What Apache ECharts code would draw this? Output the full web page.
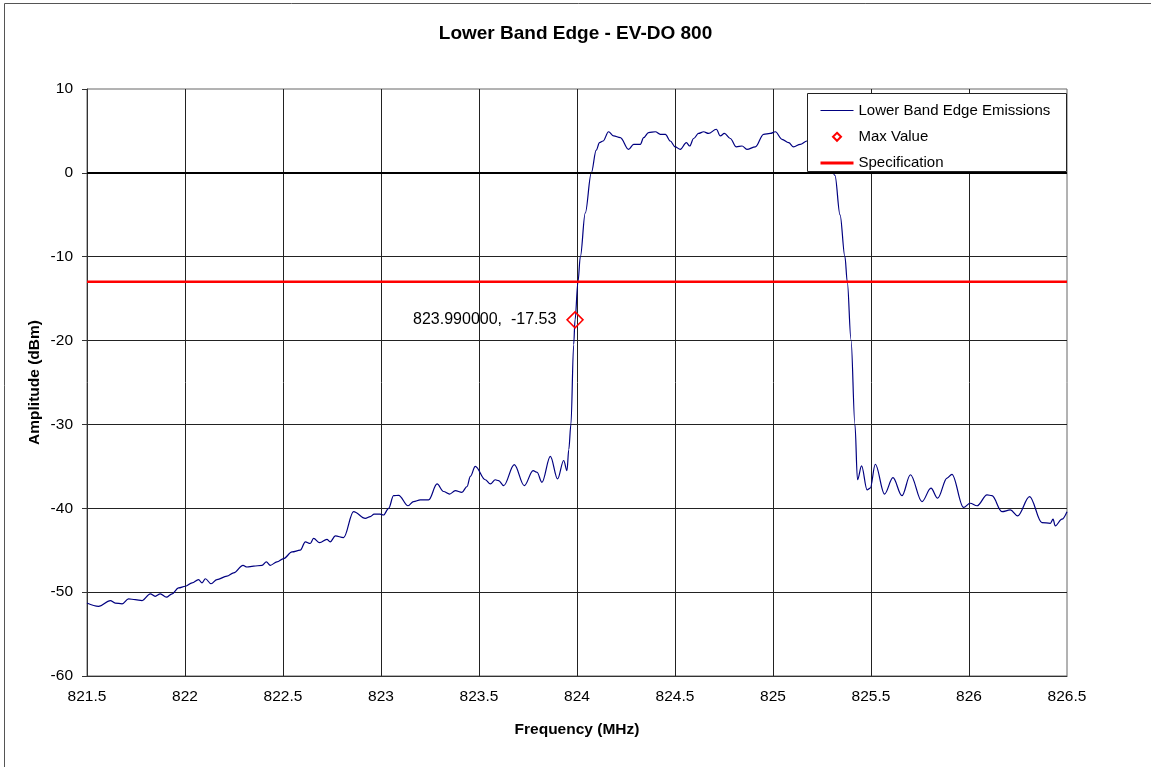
<!DOCTYPE html>
<html>
<head>
<meta charset="utf-8">
<script src="https://cdn.jsdelivr.net/npm/echarts@6/dist/echarts.min.js"></script>
<style>
html,body{margin:0;padding:0;background:#fff;}
#chart{width:1151px;height:767px;}
</style>
</head>
<body>
<div id="chart"></div>
<script>
// ---- Data ----
const freqMHz = [
  821.500, 821.559, 821.619, 821.644, 821.679, 821.712, 821.746, 821.781, 821.823, 821.848,
  821.874, 821.905, 821.934, 821.967, 822.002, 822.036, 822.069, 822.087, 822.104, 822.133,
  822.163, 822.214, 822.248, 822.296, 822.316, 822.350, 822.393, 822.415, 822.435, 822.469,
  822.503, 822.546, 822.588, 822.614, 822.639, 822.656, 822.687, 822.724, 822.741, 822.767,
  822.809, 822.860, 822.920, 822.945, 822.965, 822.995, 823.013, 823.039, 823.064, 823.090,
  823.138, 823.166, 823.201, 823.243, 823.286, 823.319, 823.350, 823.379, 823.413, 823.439,
  823.456, 823.481, 823.532, 823.558, 823.583, 823.600, 823.626, 823.680, 823.731, 823.776,
  823.796, 823.821, 823.864, 823.901, 823.932, 823.949, 823.958, 823.969, 823.983, 823.990,
  824.005, 824.017, 824.042, 824.073, 824.098, 824.115, 824.133, 824.161, 824.187, 824.221,
  824.263, 824.289, 824.323, 824.340, 824.365, 824.400, 824.425, 824.451, 824.476, 824.501,
  824.527, 824.558, 824.575, 824.595, 824.620, 824.646, 824.671, 824.711, 824.731, 824.752,
  824.782, 824.813, 824.842, 824.867, 824.910, 824.952, 824.986, 825.012, 825.046, 825.080,
  825.105, 825.139, 825.173, 825.200, 825.230, 825.260, 825.286, 825.316, 825.342, 825.367,
  825.379, 825.398, 825.418, 825.431, 825.452, 825.480, 825.496, 825.522, 825.569, 825.612,
  825.658, 825.701, 825.760, 825.806, 825.840, 825.888, 825.913, 825.972, 826.006, 826.041,
  826.092, 826.117, 826.168, 826.211, 826.248, 826.309, 826.372, 826.415, 826.429, 826.440,
  826.474, 826.500
];
const ampDbm = [
  -51.3, -51.7, -51.0, -51.3, -51.4, -50.8, -50.9, -51.0, -50.2, -50.5,
  -50.2, -50.6, -50.2, -49.5, -49.3, -48.9, -48.5, -48.9, -48.4, -49.0,
  -48.5, -48.1, -47.7, -46.8, -47.0, -46.9, -46.8, -46.4, -46.8, -46.4,
  -46.0, -45.2, -45.0, -44.0, -44.2, -43.6, -44.1, -43.7, -44.0, -43.3,
  -43.5, -40.4, -41.2, -41.0, -40.7, -40.7, -40.8, -40.0, -38.5, -38.45,
  -39.7, -39.2, -39.0, -39.0, -37.1, -38.0, -38.3, -37.9, -38.1, -37.4,
  -36.2, -35.0, -36.6, -37.1, -36.6, -36.7, -37.3, -34.8, -37.3, -35.5,
  -35.7, -36.9, -33.8, -36.5, -34.3, -35.5, -33.0, -30.0, -20.5, -17.53,
  -13.0, -10.0, -4.8, 0.0, 2.7, 3.6, 3.8, 4.9, 4.4, 4.2,
  2.8, 3.4, 3.4, 4.2, 4.8, 4.9, 4.6, 4.6, 3.8, 3.1,
  2.8, 3.6, 3.2, 4.1, 4.7, 4.9, 4.7, 5.2, 4.4, 4.7,
  4.1, 3.1, 3.2, 2.8, 3.1, 4.6, 4.7, 4.9, 4.0, 3.6,
  3.1, 3.4, 3.8, 4.0, 3.4, 2.6, 1.2, -0.3, -5.0, -10.0,
  -13.0, -19.9, -30.0, -36.6, -34.95, -37.8, -37.6, -34.75, -38.3, -36.35,
  -38.5, -36.0, -39.2, -37.6, -38.8, -36.4, -35.95, -39.9, -39.4, -39.7,
  -38.4, -38.5, -40.4, -40.2, -40.9, -38.6, -41.7, -41.8, -41.3, -42.1,
  -41.3, -40.4
];
const maxFreq = 823.99;
const maxAmp = -17.53;
const specLevel = -13;
const xRange = [821.5, 826.5];
const yRange = [-60, 10];
const seriesNames = ['Lower Band Edge Emissions', 'Max Value', 'Specification'];
const titleText = 'Lower Band Edge - EV-DO 800';
const xName = 'Frequency (MHz)';
const yName = 'Amplitude (dBm)';

// ---- Chart ----
const emissions = freqMHz.map((f, i) => [f, ampDbm[i]]);
const specData = [[xRange[0], specLevel], [xRange[1], specLevel]];
const FONT = '"Liberation Sans", Arial, sans-serif';

const chart = echarts.init(document.getElementById('chart'), null, {renderer: 'canvas'});
chart.setOption({
  animation: false,
  backgroundColor: '#fff',
  textStyle: {fontFamily: FONT, color: '#000'},
  title: {
    text: titleText,
    left: 'center',
    top: 19,
    textStyle: {fontFamily: FONT, fontSize: 19, fontWeight: 'bold', color: '#000'}
  },
  grid: {
    left: 87, right: 84, top: 89, bottom: 91,
    show: true, borderColor: '#666', borderWidth: 1, backgroundColor: 'transparent'
  },
  xAxis: {
    type: 'value',
    min: xRange[0], max: xRange[1], interval: 0.5,
    name: xName, nameLocation: 'middle', nameGap: 46,
    nameTextStyle: {fontFamily: FONT, fontSize: 15.5, fontWeight: 'bold', color: '#000'},
    axisLine: {show: true, onZero: false, lineStyle: {color: '#333', width: 1}},
    axisTick: {show: false},
    axisLabel: {fontFamily: FONT, fontSize: 15.5, color: '#000', margin: 13,
      formatter: v => String(+v.toFixed(1))},
    splitLine: {show: true, showMinLine: false, showMaxLine: false, lineStyle: {color: '#222', width: 1}}
  },
  yAxis: {
    type: 'value',
    min: yRange[0], max: yRange[1], interval: 10,
    name: yName, nameLocation: 'middle', nameGap: 44, nameMoveOverlap: false,
    nameTextStyle: {fontFamily: FONT, fontSize: 15.5, fontWeight: 'bold', color: '#000'},
    axisLine: {show: true, lineStyle: {color: '#333', width: 1}},
    axisTick: {show: true, length: 5, inside: false, lineStyle: {color: '#333'}},
    axisLabel: {fontFamily: FONT, fontSize: 15.5, color: '#000', margin: 14},
    splitLine: {show: true, showMinLine: false, showMaxLine: false, lineStyle: {color: '#222', width: 1}}
  },
  legend: {
    show: true,
    orient: 'vertical',
    left: 819, top: 103,
    padding: 0,
    itemWidth: 33, itemHeight: 10, itemGap: 11.3,
    textStyle: {fontFamily: FONT, fontSize: 15, color: '#000'},
    selectedMode: false,
    z: 6,
    data: [
      {name: seriesNames[0], lineStyle: {width: 1.2, color: '#000080'}, itemStyle: {opacity: 0}},
      {name: seriesNames[1], lineStyle: {width: 0, opacity: 0}},
      {name: seriesNames[2], lineStyle: {width: 3, color: '#ff0000'}, itemStyle: {opacity: 0}}
    ]
  },
  graphic: [
    {
      type: 'rect', z: 3,
      shape: {x: 807.5, y: 93.5, width: 259, height: 78},
      style: {fill: '#fff', stroke: '#222', lineWidth: 1}
    },
    {
      type: 'rect', z: 1, silent: true,
      shape: {x: 4.5, y: 3.5, width: 1200, height: 800},
      style: {fill: 'none', stroke: '#555', lineWidth: 1}
    }
  ],
  series: [
    {
      name: seriesNames[0],
      type: 'line',
      data: emissions,
      symbol: 'none',
      smooth: 0.35,
      smoothMonotone: 'x',
      lineStyle: {color: '#000080', width: 1.2},
      itemStyle: {color: '#000080'},
      z: 2,
      markLine: {
        silent: true,
        symbol: ['none', 'none'],
        label: {show: false},
        lineStyle: {color: '#000', width: 2, type: 'solid'},
        data: [{yAxis: 0}]
      }
    },
    {
      name: seriesNames[2],
      type: 'line',
      data: specData,
      symbol: 'none',
      lineStyle: {color: '#ff0000', width: 2.5},
      itemStyle: {color: '#ff0000'},
      z: 2
    },
    {
      name: seriesNames[1],
      type: 'line',
      data: [[maxFreq, maxAmp]],
      symbol: 'diamond',
      symbolSize: 16,
      showSymbol: true,
      lineStyle: {width: 0, opacity: 0},
      itemStyle: {color: 'rgba(255,255,255,0)', borderColor: '#ff0000', borderWidth: 1.5},
      label: {
        show: true,
        position: 'left',
        distance: 10,
        fontFamily: FONT,
        fontSize: 16,
        color: '#000',
        formatter: () => maxFreq.toFixed(6) + ',  ' + maxAmp.toFixed(2)
      },
      z: 5
    }
  ]
});
</script>
</body>
</html>
